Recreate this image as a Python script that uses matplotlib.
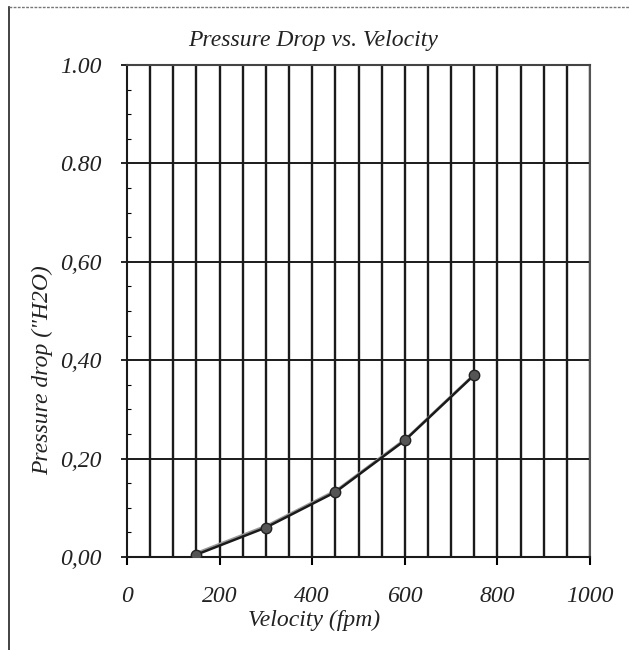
import numpy as np
import matplotlib as mpl
mpl.use('Agg')
import matplotlib.pyplot as plt
from matplotlib.ticker import MultipleLocator, FixedLocator
import matplotlib.transforms as mtransforms

mpl.rcParams['font.family'] = ['Liberation Serif', 'DejaVu Serif']

velocity = [150, 300, 450, 600, 750]
pressure_drop = [0.005, 0.06, 0.132, 0.237, 0.37]
xtick_values = [0, 200, 400, 600, 800, 1000]
ytick_values = [0.0, 0.2, 0.4, 0.6, 0.8, 1.0]
ytick_labels = ['0,00', '0,20', '0,40', '0,60', '0.80', '1.00']

fs = 17

fig = plt.figure(figsize=(6.29, 6.5), dpi=100)
ax = fig.add_axes([0.202, 0.143, 0.736, 0.757])

# dense vertical grid every 50, horizontal every 0.2
for xv in np.arange(50, 1001, 50):
    ax.axvline(xv, color='#1a1a1a', linewidth=1.7, zorder=1)
for yv in ytick_values[1:]:
    ax.axhline(yv, color='#1a1a1a', linewidth=1.4, zorder=1)

# faint scan shadow of the curve
shadow = mtransforms.offset_copy(ax.transData, fig=fig, x=1.5, y=2.5, units='dots')
ax.plot(velocity, pressure_drop, color='#999999', linewidth=1.4, transform=shadow, zorder=2)
ax.plot(velocity, pressure_drop, color='#1a1a1a', linewidth=1.8, marker='o',
        markersize=7.5, markerfacecolor='#555555', markeredgecolor='#222222', zorder=3)

ax.set_xlim(0, 1000)
ax.set_ylim(0, 1.0)
ax.xaxis.set_major_locator(FixedLocator(xtick_values))
ax.yaxis.set_major_locator(FixedLocator(ytick_values))
ax.yaxis.set_minor_locator(MultipleLocator(0.05))
ax.set_xticklabels([str(v) for v in xtick_values])
ax.set_yticklabels(ytick_labels)

ax.tick_params(axis='x', which='major', direction='out', length=6, width=1.5,
               pad=15, labelsize=fs)
ax.tick_params(axis='y', which='major', direction='out', length=4, width=1.2,
               pad=14, labelsize=fs)
ax.tick_params(axis='y', which='minor', direction='in', length=3, width=0.8)
for lab in ax.get_xticklabels() + ax.get_yticklabels():
    lab.set_fontstyle('italic')
    lab.set_color('#222222')

for side in ['left', 'bottom', 'right', 'top']:
    ax.spines[side].set_linewidth(1.5)
    ax.spines[side].set_color('#1a1a1a')
ax.spines['top'].set_color('#444444')
ax.spines['right'].set_color('#555555')

fig.text(0.497, 0.937, 'Pressure Drop vs. Velocity', ha='center', va='center',
         fontsize=fs, style='italic', color='#222222')
fig.text(0.5, 0.045, 'Velocity (fpm)', ha='center', va='center',
         fontsize=fs, style='italic', color='#222222')
fig.text(0.068, 0.43, 'Pressure drop ("H2O)', ha='center', va='center',
         rotation=90, fontsize=fs, style='italic', color='#222222')

# page border of the scan
fig.add_artist(plt.Line2D([0.014, 0.014], [0.0, 0.99], color='#222222', linewidth=1.2))
fig.add_artist(plt.Line2D([0.014, 1.0], [0.99, 0.99], color='#777777', linewidth=1.0,
                          linestyle=(0, (2, 1))))

plt.savefig('out.png', dpi=100)
